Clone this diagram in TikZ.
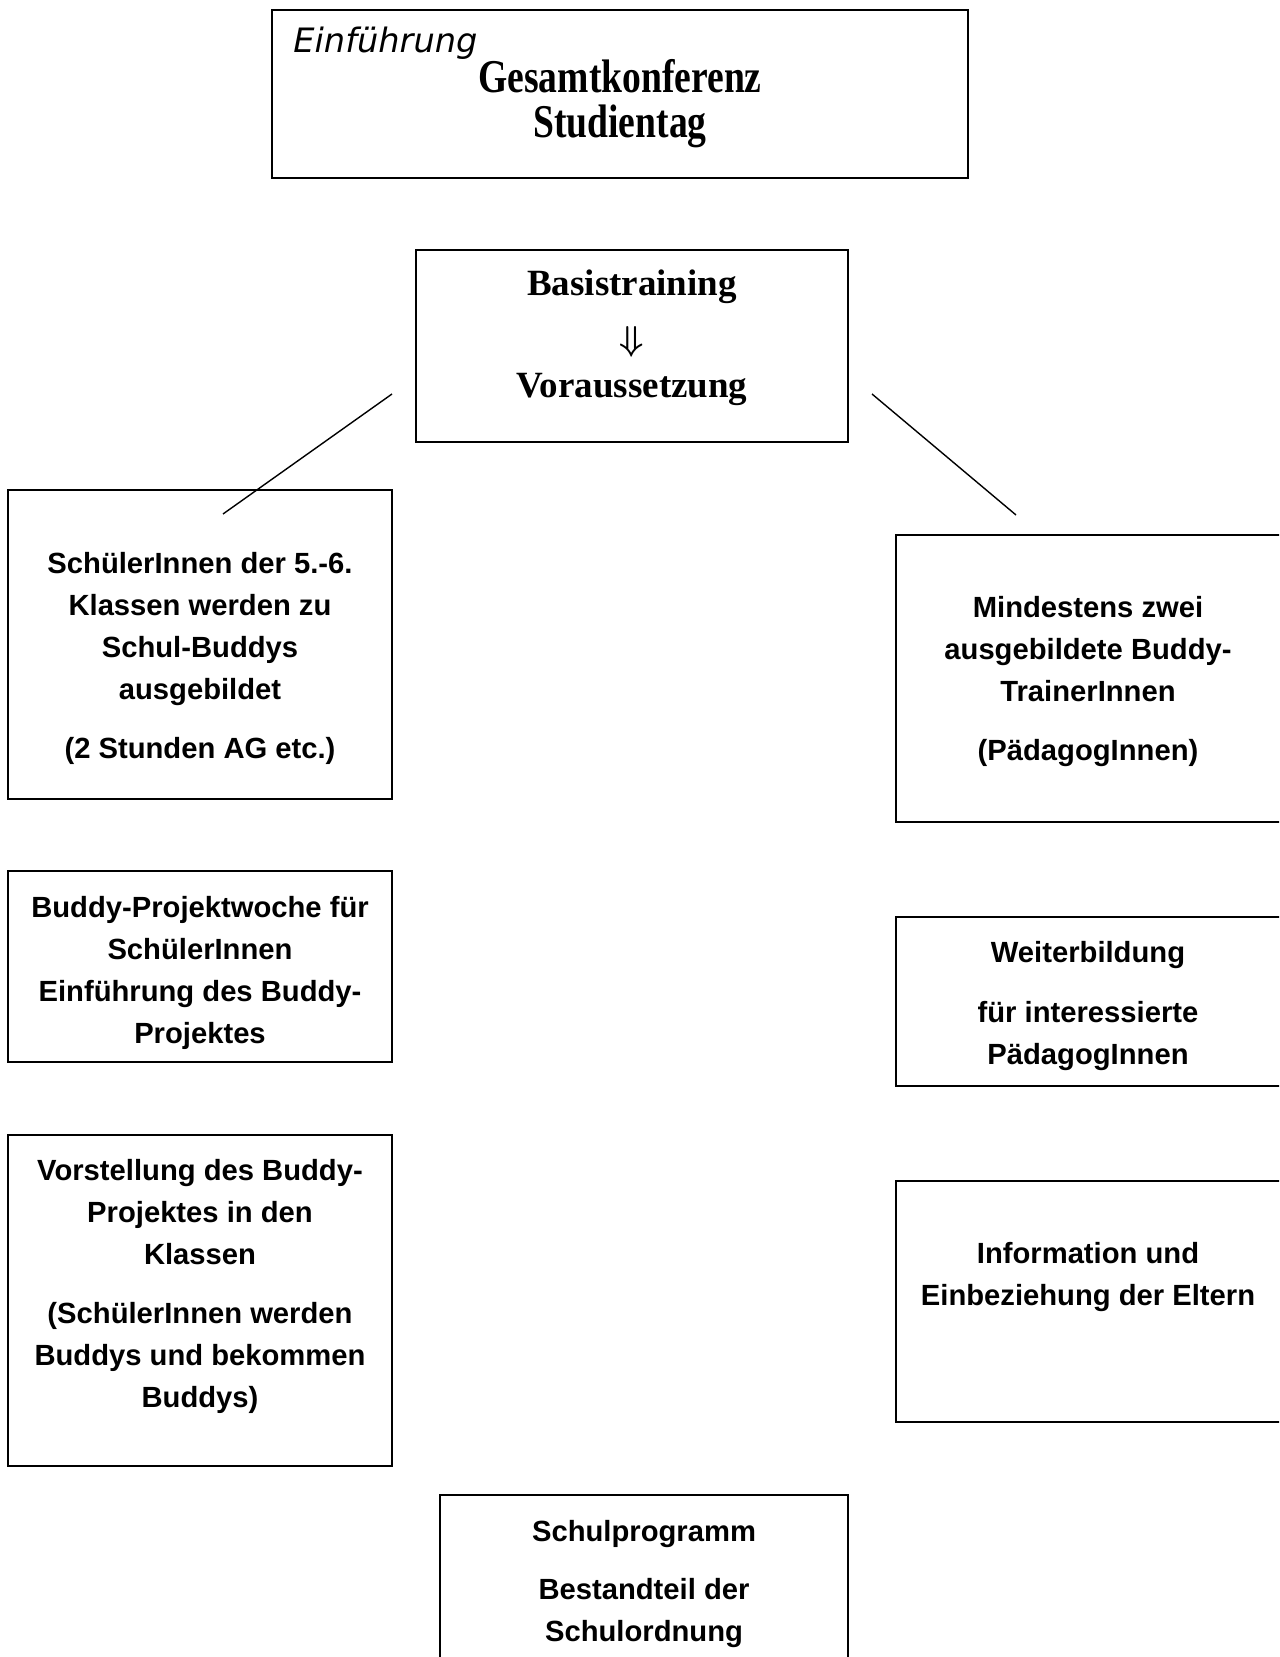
\documentclass[tikz,border=0pt]{standalone}
\usepackage{fontspec}
\setmainfont{Liberation Serif}
\setsansfont{Liberation Sans}
\newfontfamily\dejavu{DejaVu Sans}
\newfontfamily\condserif[FakeStretch=0.8]{Liberation Serif}
\begin{document}
\begin{tikzpicture}[x=0.5pt,y=-0.5pt,
  box/.style={draw=black, line width=0.8pt, minimum width=#1, inner sep=0pt},
  txt/.style={align=center, inner sep=0pt, font=\sffamily\bfseries\fontsize{14.6pt}{21pt}\selectfont},
  head/.style={align=center, inner sep=0pt, font=\rmfamily\bfseries\fontsize{18.5pt}{22.5pt}\selectfont},
  link/.style={line width=0.7pt, draw=black}]
\useasboundingbox (0,0) rectangle (1279,1657);
\clip (0,0) rectangle (1279,1657);
% boxes
\node[box=348pt, minimum height=84pt] (top) at (620,94) {};
\node[box=216pt, minimum height=96pt] (basis) at (632,346) {};
\node[box=192pt, minimum height=154.5pt] (l1) at (200,644.5) {};
\node[box=202pt, minimum height=143.5pt] (r1) at (1098,678.5) {};
\node[box=192pt, minimum height=95.5pt] (l2) at (200,966.5) {};
\node[box=202pt, minimum height=84.5pt] (r2) at (1098,1001.5) {};
\node[box=192pt, minimum height=165.5pt] (l3) at (200,1300.5) {};
\node[box=202pt, minimum height=120.5pt] (r3) at (1098,1301.5) {};
\node[box=204pt, minimum height=102.5pt] (bottom) at (644,1597.5) {};
% texts
\node[anchor=west, inner sep=0pt, font=\dejavu\itshape\fontsize{16.8pt}{20pt}\selectfont] (einf) at (293,43) {Einführung};
\node[align=center, inner sep=0pt, font=\condserif\bfseries\fontsize{23.5pt}{22.5pt}\selectfont] (gesamt) at (620,104) {Gesamtkonferenz\\Studientag};
\node[head] (basis-a) at (632,287) {Basistraining};
\node[inner sep=0pt, font=\fontsize{19pt}{21pt}\selectfont\boldmath] (basis-arrow) at (632,342) {$\Downarrow$};
\node[head] (basis-b) at (632,389) {Voraussetzung};
\node[txt] (l1-t) at (200,658.5) {SchülerInnen der 5.-6.\\Klassen werden zu\\Schul-Buddys\\ausgebildet\\[8.5pt](2 Stunden AG etc.)};
\node[txt] (r1-t) at (1088,682) {Mindestens zwei\\ausgebildete Buddy-\\TrainerInnen\\[8.5pt](PädagogInnen)};
\node[txt] (l2-t) at (200,972.5) {Buddy-Projektwoche für\\SchülerInnen\\Einführung des Buddy-\\Projektes};
\node[txt] (r2-t) at (1088,1006) {Weiterbildung\\[9pt]für interessierte\\PädagogInnen};
\node[txt] (l3-t) at (200,1286.5) {Vorstellung des Buddy-\\Projektes in den\\Klassen\\[8.5pt](SchülerInnen werden\\Buddys und bekommen\\Buddys)};
\node[txt] (r3-t) at (1088,1277) {Information und\\Einbeziehung der Eltern};
\node[txt] (bottom-t) at (644,1583.5) {Schulprogramm\\[8pt]Bestandteil der\\Schulordnung};
% connectors
\coordinate (la) at (392,394);
\coordinate (lb) at (223,514);
\coordinate (ra) at (872,394);
\coordinate (rb) at (1016,515);
\draw[link] (la) -- (lb);
\draw[link] (ra) -- (rb);
\end{tikzpicture}
\end{document}
